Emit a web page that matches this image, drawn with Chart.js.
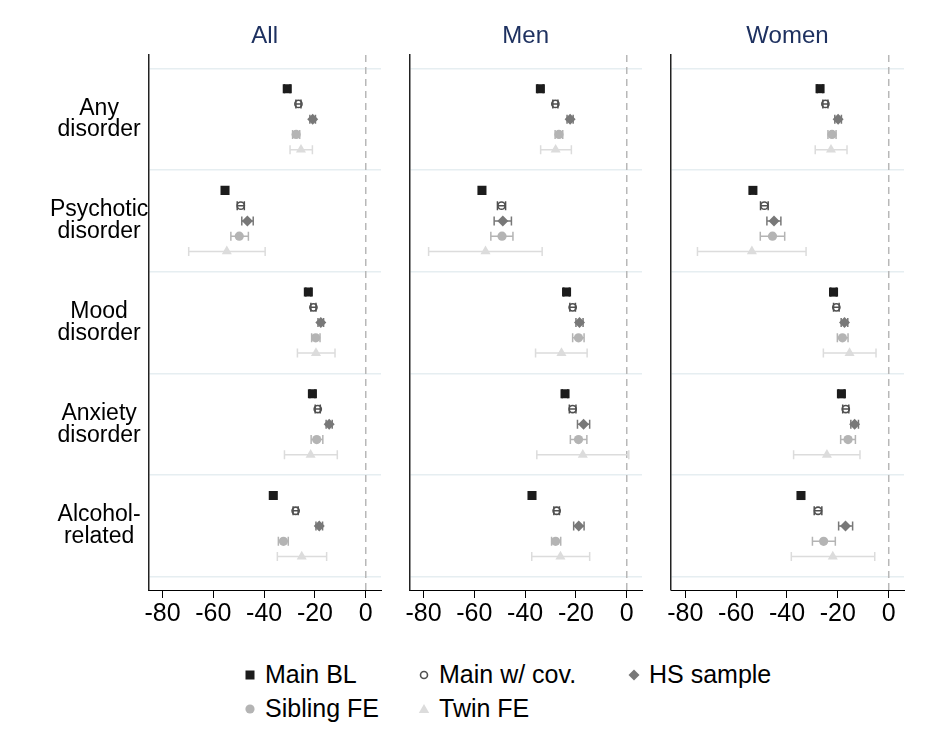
<!DOCTYPE html>
<html>
<head>
<meta charset="utf-8">
<script src="https://cdn.jsdelivr.net/npm/chart.js@4.4.1/dist/chart.umd.min.js"></script>
<style>
  body { margin: 0; background: #fff; width: 931px; height: 751px; position: relative; overflow: hidden;
         font-family: "Liberation Sans", Arial, sans-serif; }
  canvas { position: absolute; top: 0; }
  .key { position: absolute; display: flex; align-items: center; font-size: 25px; color: #000; white-space: nowrap; }
  .key svg { margin-right: 8px; }
</style>
</head>
<body>
<canvas id="pAll" width="390" height="640" style="left:0px"></canvas>
<canvas id="pMen" width="252" height="640" style="left:399px"></canvas>
<canvas id="pWomen" width="252" height="640" style="left:661px"></canvas>
<div id="legend"></div>

<script>
// Outcomes (rows) and estimators (marker series)
const categories = [['Any', 'disorder'], ['Psychotic', 'disorder'], ['Mood', 'disorder'], ['Anxiety', 'disorder'], ['Alcohol-', 'related']];
const seriesNames = ['Main BL', 'Main w/ cov.', 'HS sample', 'Sibling FE', 'Twin FE'];
const panelNames = ['All', 'Men', 'Women'];
const xTickValues = [-80, -60, -40, -20, 0];

// Estimates per series, in category order: Any, Psychotic, Mood, Anxiety, Alcohol
const allEst = [
  [-30.9, -55.4, -22.6, -21.0, -36.4],
  [-26.5, -49.2, -20.6, -18.9, -27.6],
  [-20.9, -46.6, -17.7, -14.4, -18.3],
  [-27.4, -49.8, -19.7, -19.3, -32.4],
  [-25.5, -54.7, -19.6, -21.7, -25.2]
];
const allLo = [
  [-32.0, -56.5, -23.6, -22.0, -37.4],
  [-27.5, -50.6, -21.6, -19.9, -28.6],
  [-22.0, -48.8, -18.8, -15.6, -19.6],
  [-28.8, -53.1, -21.3, -21.5, -34.4],
  [-29.8, -69.7, -26.9, -32.0, -34.8]
];
const allHi = [
  [-29.8, -54.3, -21.6, -20.0, -35.4],
  [-25.5, -47.8, -19.6, -17.9, -26.6],
  [-19.8, -44.3, -16.6, -13.2, -17.0],
  [-26.0, -46.2, -18.0, -16.9, -30.5],
  [-21.0, -39.6, -12.1, -11.2, -15.4]
];

const menEst = [
  [-34.0, -57.0, -23.7, -24.3, -37.3],
  [-28.1, -49.3, -21.3, -21.3, -27.6],
  [-22.3, -48.8, -18.6, -17.0, -18.9],
  [-26.7, -49.1, -19.0, -19.0, -28.0],
  [-28.0, -55.6, -25.7, -17.3, -26.1]
];
const menLo = [
  [-35.1, -58.1, -24.8, -25.4, -38.4],
  [-29.1, -50.9, -22.4, -22.6, -28.7],
  [-23.5, -52.2, -20.0, -19.4, -20.9],
  [-28.2, -53.5, -21.3, -22.2, -29.6],
  [-33.9, -78.0, -35.9, -35.4, -37.4]
];
const menHi = [
  [-32.9, -55.9, -22.6, -23.2, -36.2],
  [-27.1, -47.7, -20.2, -20.0, -26.5],
  [-21.1, -45.4, -17.2, -14.6, -16.8],
  [-25.2, -44.8, -16.8, -15.7, -26.0],
  [-21.8, -33.3, -15.6, 0.8, -14.6]
];

const womenEst = [
  [-27.0, -53.4, -21.7, -18.6, -34.5],
  [-24.9, -48.9, -20.6, -16.9, -27.8],
  [-19.9, -45.1, -17.4, -13.4, -17.0],
  [-22.3, -45.7, -18.2, -16.0, -25.6],
  [-22.7, -53.8, -15.4, -24.3, -22.0]
];
const womenLo = [
  [-28.1, -54.5, -22.8, -19.7, -35.6],
  [-25.9, -50.4, -21.7, -18.1, -29.3],
  [-21.2, -47.9, -18.7, -14.9, -19.7],
  [-23.9, -50.5, -20.2, -18.9, -30.0],
  [-28.9, -75.2, -25.7, -37.4, -38.3]
];
const womenHi = [
  [-25.9, -52.3, -20.6, -17.5, -33.4],
  [-23.9, -47.4, -19.5, -15.7, -26.3],
  [-18.6, -42.4, -16.1, -11.9, -14.2],
  [-20.7, -40.9, -16.0, -13.1, -21.0],
  [-16.4, -32.5, -5.0, -11.3, -5.5]
];

// Marker look for each estimator
const markerStyles = [
  { pointStyle: 'rect', radius: 6.4, color: '#1c1c1c', fill: '#1c1c1c', borderWidth: 0 },
  { pointStyle: 'circle', radius: 3.6, color: '#505050', fill: 'rgba(255,255,255,0)', borderWidth: 1.6 },
  { pointStyle: 'rectRot', radius: 5.5, color: '#787878', fill: '#787878', borderWidth: 0 },
  { pointStyle: 'circle', radius: 4.6, color: '#b4b4b4', fill: '#b4b4b4', borderWidth: 0 },
  { pointStyle: 'triangle', radius: 5.8, color: '#dcdcdc', fill: '#dcdcdc', borderWidth: 0 }
];
const rowStep = 0.15;   // vertical spacing of estimators inside one outcome band
const yTickValues = [-0.5, 0, 0.5, 1, 1.5, 2, 2.5, 3, 3.5, 4, 4.5];
const fontFamily = "'Liberation Sans', Arial, sans-serif";

Chart.defaults.font.family = fontFamily;

// horizontal confidence intervals with end caps
const errorBars = {
  id: 'errorBars',
  beforeDatasetsDraw(chart) {
    const { ctx, scales: { x, y } } = chart;
    ctx.save();
    chart.data.datasets.forEach(ds => {
      ctx.strokeStyle = ds.borderColor;
      ctx.lineWidth = 1.5;
      ds.data.forEach(p => {
        const x0 = x.getPixelForValue(p.lo);
        const x1 = x.getPixelForValue(p.hi);
        const yy = y.getPixelForValue(p.y);
        ctx.beginPath();
        ctx.moveTo(x0, yy); ctx.lineTo(x1, yy);
        ctx.moveTo(x0, yy - 4.5); ctx.lineTo(x0, yy + 4.5);
        ctx.moveTo(x1, yy - 4.5); ctx.lineTo(x1, yy + 4.5);
        ctx.stroke();
      });
    });
    ctx.restore();
  }
};

// dashed reference line at zero
const zeroLine = {
  id: 'zeroLine',
  beforeDatasetsDraw(chart) {
    const { ctx, chartArea, scales: { x } } = chart;
    const px = x.getPixelForValue(0);
    ctx.save();
    ctx.strokeStyle = '#b8b8b8';
    ctx.lineWidth = 1.5;
    ctx.setLineDash([7, 5]);
    ctx.beginPath();
    ctx.moveTo(px, chartArea.top);
    ctx.lineTo(px, chartArea.bottom);
    ctx.stroke();
    ctx.restore();
  }
};

function buildPanel(canvasId, title, est, lo, hi, yAxisWidth, showLabels) {
  const datasets = seriesNames.map((name, s) => {
    const st = markerStyles[s];
    return {
      label: name,
      data: categories.map((c, i) => ({ x: est[s][i], y: i + (s - 2) * rowStep, lo: lo[s][i], hi: hi[s][i] })),
      pointStyle: st.pointStyle,
      pointRadius: st.radius,
      backgroundColor: st.fill,
      borderColor: st.color,
      borderWidth: st.borderWidth,
      showLine: false
    };
  });

  new Chart(document.getElementById(canvasId), {
    type: 'scatter',
    data: { datasets: datasets },
    options: {
      responsive: false,
      animation: false,
      events: [],
      layout: { padding: { left: 0, right: 9, top: 0, bottom: 0 } },
      plugins: {
        legend: { display: false },
        tooltip: { enabled: false },
        title: {
          display: true,
          text: title,
          fullSize: false,
          color: '#1e3160',
          font: { size: 24, weight: 'normal' },
          padding: { top: 22, bottom: 4.2 }
        }
      },
      scales: {
        x: {
          type: 'linear',
          min: -85.6,
          max: 6.0,
          afterBuildTicks: sc => { sc.ticks = xTickValues.map(v => ({ value: v })); },
          afterFit: sc => { sc.height = 50; },
          grid: { drawOnChartArea: false, drawTicks: true, tickLength: 8, tickColor: '#000', tickWidth: 1 },
          border: { color: '#000', width: 1 },
          ticks: { color: '#000', font: { size: 25 }, padding: 1, maxRotation: 0, autoSkip: false }
        },
        y: {
          type: 'linear',
          reverse: true,
          min: -0.631,
          max: 4.629,
          afterBuildTicks: sc => { sc.ticks = yTickValues.map(v => ({ value: v })); },
          afterFit: sc => { sc.width = yAxisWidth; },
          grid: {
            drawTicks: false,
            lineWidth: 1.5,
            color: c => (c.tick && Number.isInteger(c.tick.value)) ? 'rgba(0,0,0,0)' : '#e6eef1'
          },
          border: { color: '#222', width: 1.5 },
          ticks: {
            display: showLabels,
            autoSkip: false,
            padding: 0,
            crossAlign: 'center',
            color: '#000',
            font: { size: 23, lineHeight: 0.95 },
            callback: v => Number.isInteger(v) ? categories[v] : ''
          }
        }
      }
    },
    plugins: [zeroLine, errorBars]
  });
}

buildPanel('pAll', panelNames[0], allEst, allLo, allHi, 148.3, true);
buildPanel('pMen', panelNames[1], menEst, menLo, menHi, 10.3, false);
buildPanel('pWomen', panelNames[2], womenEst, womenLo, womenHi, 10, false);

// legend: two rows, three columns
const legendPos = [
  { left: 243, top: 675 }, { left: 417, top: 675 }, { left: 627, top: 675 },
  { left: 243, top: 709 }, { left: 417, top: 709 }
];
function markerSvg(s) {
  const st = markerStyles[s];
  let shape = '';
  if (s === 0) shape = '<rect x="2.5" y="2.5" width="9" height="9" fill="' + st.fill + '"/>';
  if (s === 1) shape = '<circle cx="7" cy="7" r="3.5" fill="none" stroke="' + st.color + '" stroke-width="1.6"/>';
  if (s === 2) shape = '<polygon points="7,1.5 12.5,7 7,12.5 1.5,7" fill="' + st.fill + '"/>';
  if (s === 3) shape = '<circle cx="7" cy="7" r="4.6" fill="' + st.fill + '"/>';
  if (s === 4) shape = '<polygon points="7,2 12.2,11 1.8,11" fill="' + st.fill + '"/>';
  return '<svg width="14" height="14">' + shape + '</svg>';
}
const legend = document.getElementById('legend');
seriesNames.forEach((name, s) => {
  const item = document.createElement('div');
  item.className = 'key';
  item.style.left = legendPos[s].left + 'px';
  item.style.top = (legendPos[s].top - 15) + 'px';
  item.innerHTML = markerSvg(s) + '<span>' + name + '</span>';
  legend.appendChild(item);
});
</script>
</body>
</html>
